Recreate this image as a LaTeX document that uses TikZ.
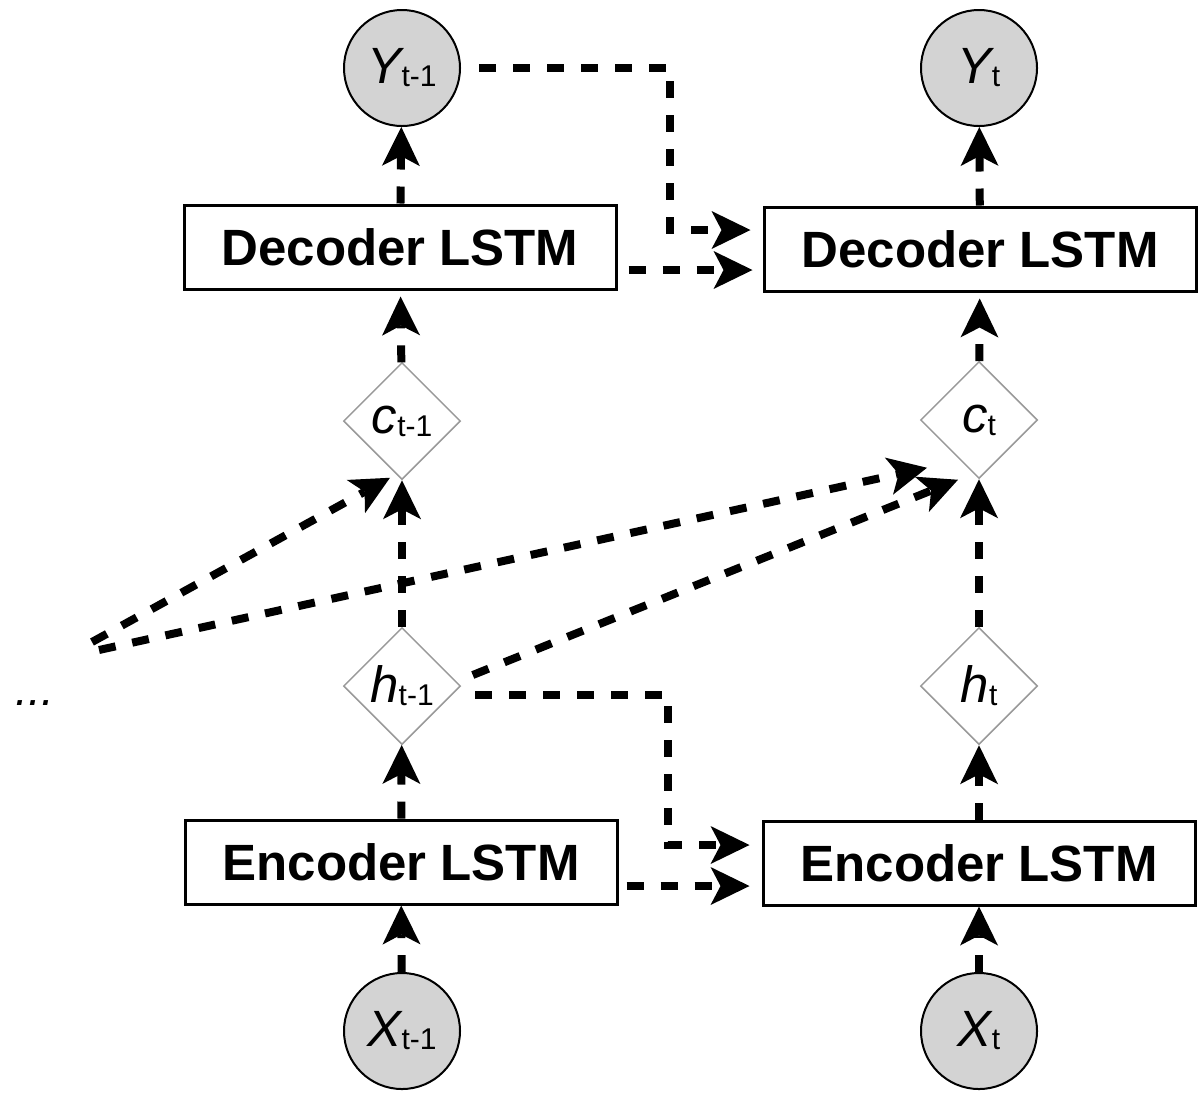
\documentclass[tikz,border=0pt]{standalone}
\usepackage{fontspec}
\setmainfont{Liberation Sans}
\usetikzlibrary{arrows.meta,shapes.geometric}
\definecolor{stategray}{RGB}{211,211,211}
\definecolor{gategray}{RGB}{153,153,153}
\newcommand{\lbl}[2]{{\itshape #1}\raisebox{-1.5pt}{\fontsize{15}{15}\selectfont #2}}

\begin{document}
\begin{tikzpicture}[x=0.5pt,y=-0.5pt]
        \tikzset{StateStyle/.style={circle, draw=black, line width=1pt,
        fill=stategray, minimum size=58pt, inner sep=0pt,
        font=\fontsize{25.5}{30}\selectfont}}
        \tikzset{GateStyle/.style={diamond, aspect=1, draw=gategray,
        line width=0.75pt, minimum width=58.5pt, minimum height=58.5pt,
        inner sep=0pt, font=\fontsize{25.5}{30}\selectfont}}
        \tikzset{LstmStyle/.style={rectangle, draw=black, line width=1.5pt,
        minimum width=216pt, minimum height=42pt,
        font=\fontsize{25.5}{30}\selectfont\bfseries}}
        \tikzset{FlowStyle/.style={line width=4pt, dash pattern=on 8.5pt off 8.5pt,
        -{Stealth[length=19.5pt, width=19pt, inset=5pt, line width=0pt]}}}
        \useasboundingbox (0,0) rectangle (1203,1099);
        \node[StateStyle] (y1) at (402,68) {\lbl{Y}{t-1}};
        \node[StateStyle] (y2) at (979,68) {\lbl{Y}{t}};
        \node[LstmStyle] (dec1) at (400,247) {Decoder LSTM};
        \node[LstmStyle] (dec2) at (980,249) {Decoder LSTM};
        \node[GateStyle] (c1) at (402,421) {\lbl{c}{t-1}};
        \node[GateStyle] (c2) at (979,420) {\lbl{c}{t}};
        \node[GateStyle] (h1) at (402,686) {\lbl{h}{t-1}};
        \node[GateStyle] (h2) at (979,686) {\lbl{h}{t}};
        \node[LstmStyle] (enc1) at (401,862) {Encoder LSTM};
        \node[LstmStyle] (enc2) at (979,863) {Encoder LSTM};
        \node[StateStyle] (x1) at (402,1031) {\lbl{X}{t-1}};
        \node[StateStyle] (x2) at (979,1031) {\lbl{X}{t}};
        \node[anchor=base, font=\fontsize{23}{28}\selectfont] (dots) at (35,705) {\textit{...}};
        \coordinate (prev1) at (92,642);
        \coordinate (prev2) at (99,650);
        \draw[FlowStyle] (x1) -- (enc1);
        \draw[FlowStyle] (enc1) -- (h1);
        \draw[FlowStyle] (h1) -- (c1);
        \draw[FlowStyle, shorten >=3pt] (c1) -- (dec1);
        \draw[FlowStyle] (dec1) -- (y1);
        \draw[FlowStyle] (x2) -- (enc2);
        \draw[FlowStyle] (enc2) -- (h2);
        \draw[FlowStyle] (h2) -- (c2);
        \draw[FlowStyle, shorten >=3pt] (c2) -- (dec2);
        \draw[FlowStyle] (dec2) -- (y2);
        \draw[FlowStyle, shorten <=9pt, shorten >=6pt] (y1.east) -- ++(209,0) |- ([yshift=9.5pt]dec2.west);
        \draw[FlowStyle, shorten <=5.5pt, shorten >=5pt] ([yshift=-11.5pt]dec1.east) -- ([yshift=-11.5pt]dec1.east -| dec2.west);
        \draw[FlowStyle, shorten <=7pt, shorten >=6pt] ([yshift=-4.5pt]h1.east) -- ++(207,0) |- ([yshift=9pt]enc2.west);
        \draw[FlowStyle, shorten <=4pt, shorten >=6pt] ([yshift=-12pt]enc1.east) -- ([yshift=-12pt]enc1.east -| enc2.west);
        \draw[FlowStyle] (prev1) -- ([shift={(-12,-2.5)}]c1.south);
        \draw[FlowStyle] (prev2) -- ([shift={(-52,-11.5)}]c2.south);
        \draw[FlowStyle] ([shift={(11.5,-11)}]h1.east) -- ([shift={(-21,0.5)}]c2.south);
\end{tikzpicture}
\end{document}
